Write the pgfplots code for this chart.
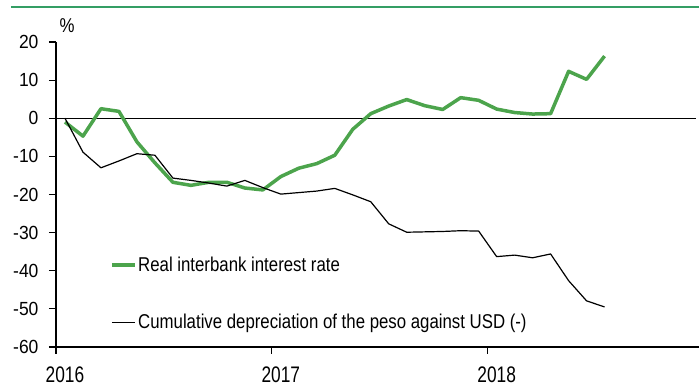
\documentclass[border=0pt]{standalone}
\usepackage{fontspec}
\setmainfont{Liberation Sans}
\newfontfamily\legfam{Liberation Sans}[FakeStretch=0.84]
\newfontfamily\yfam{Liberation Sans}[FakeStretch=0.92]
\newfontfamily\xfam{Liberation Sans}[FakeStretch=0.77]
\usepackage{pgfplots}
\pgfplotsset{compat=1.18}
\definecolor{sgreen}{RGB}{76,164,76}
\definecolor{tgreen}{RGB}{52,158,100}
\begin{document}
\begin{tikzpicture}
\begin{axis}[
  scale only axis, width=643pt, height=305pt,
  xmin=0, xmax=35.75, ymin=-60, ymax=20,
  axis x line*=bottom, axis y line*=left,
  axis line style={line width=1.5pt, black},
  xtick={0,12,24}, xticklabels={2016,2017,2018},
  ytick={-60,-50,-40,-30,-20,-10,0,10,20},
  yticklabels={-60,-50,-40,-30,-20,-10,0,10,20},
  tick align=outside, major tick length=7pt,
  tick style={line width=1.2pt, black},
  xticklabel style={font=\fontsize{22.5}{24}\selectfont\xfam, xshift=9pt, yshift=-9pt},
  yticklabel style={font=\fontsize{19}{20}\selectfont\yfam, xshift=-7pt},
  legend style={at={(0.084,0.30)}, anchor=north west, draw=none, fill=none,
    font=\fontsize{20}{22}\selectfont\legfam, row sep=38pt, inner sep=0pt,
    nodes={inner sep=1.5pt}},
  legend cell align=left,
  legend image code/.code={\draw[#1] (0pt,0pt) -- (23pt,0pt);},
  clip=false,
]
\addplot[black, line width=0.9pt, forget plot] coordinates {(0,0) (35.56,0)};
\addplot[sgreen, line width=3.5pt, line join=round] coordinates {
(0.5,-1.0) (1.5,-4.7) (2.5,2.5) (3.5,1.8) (4.5,-6.2) (5.5,-11.7) (6.5,-16.8)
(7.5,-17.6) (8.5,-16.8) (9.5,-16.8) (10.5,-18.3) (11.5,-18.8) (12.5,-15.3)
(13.5,-13.1) (14.5,-11.9) (15.5,-9.7) (16.5,-2.9) (17.5,1.2) (18.5,3.2)
(19.5,4.9) (20.5,3.3) (21.5,2.3) (22.5,5.4) (23.5,4.7) (24.5,2.4) (25.5,1.5)
(26.5,1.1) (27.5,1.2) (28.5,12.3) (29.5,10.2) (30.5,16.3)};
\addlegendentry{Real interbank interest rate}
\addplot[black, line width=1.2pt, line join=round] coordinates {
(0.5,0) (1.5,-8.9) (2.5,-13.0) (3.5,-11.2) (4.5,-9.3) (5.5,-9.7) (6.5,-15.7)
(7.5,-16.3) (8.5,-17.0) (9.5,-17.8) (10.5,-16.3) (11.5,-18.2) (12.5,-19.9)
(13.5,-19.5) (14.5,-19.1) (15.5,-18.4) (16.5,-20.1) (17.5,-21.9) (18.5,-27.7)
(19.5,-29.9) (20.5,-29.8) (21.5,-29.7) (22.5,-29.5) (23.5,-29.6) (24.5,-36.3)
(25.5,-35.9) (26.5,-36.6) (27.5,-35.6) (28.5,-42.6) (29.5,-47.9) (30.5,-49.5)};
\addlegendentry{Cumulative depreciation of the peso against USD (-)}
\end{axis}
\node[font=\fontsize{20}{22}\selectfont\legfam] at ([xshift=11pt,yshift=16pt]current axis.north west) {\%};
\draw[tgreen, line width=2pt] ([xshift=-45pt,yshift=34.7pt]current axis.north west) -- ([xshift=2pt,yshift=34.7pt]current axis.north east);
\pgfresetboundingbox
\path ([xshift=-56pt,yshift=-41pt]current axis.south west) rectangle ([yshift=42pt]current axis.north east);
\end{tikzpicture}
\end{document}
